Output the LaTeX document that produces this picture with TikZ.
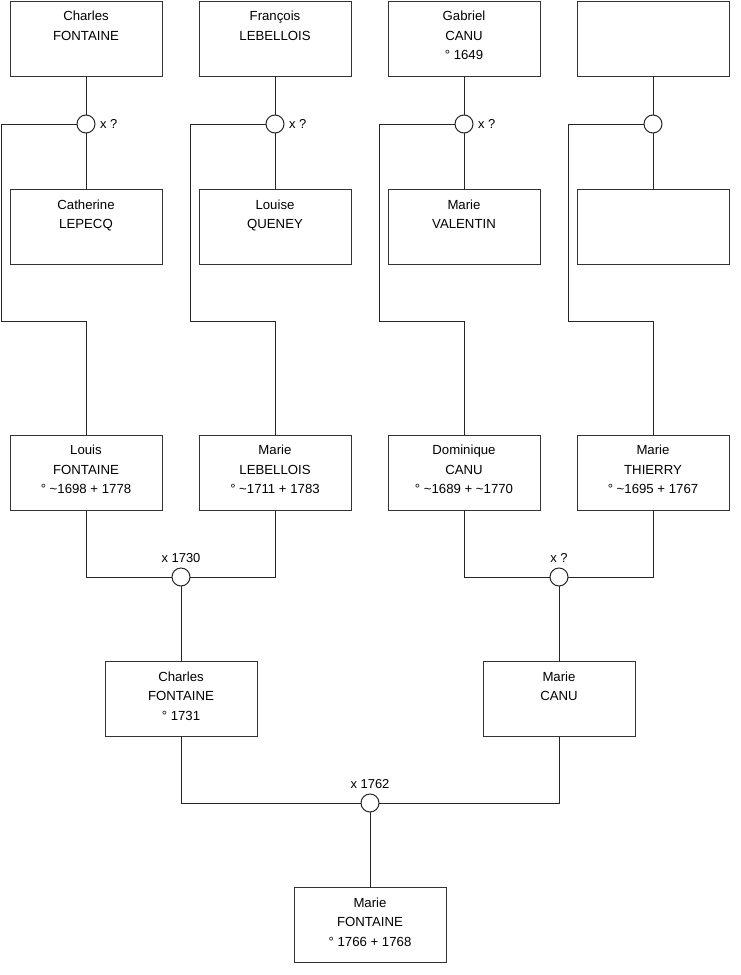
\documentclass[tikz,border=0pt]{standalone}
\usepackage{fontspec}
\setmainfont{Liberation Sans}
\begin{document}
\begin{tikzpicture}[x=0.75pt,y=-0.75pt,
  person/.style={draw=black!80, line width=0.75pt, minimum width=114pt, minimum height=56.25pt, inner sep=0pt, outer sep=0pt},
  ring/.style={circle, draw=black!85, fill=white, line width=0.75pt, minimum size=13.5pt, inner sep=0pt, outer sep=0pt},
  link/.style={line width=0.75pt, draw=black!85},
  txt/.style={align=center, font=\fontsize{9.9}{14.6}\selectfont, anchor=north, inner sep=0pt},
  mtxt/.style={font=\fontsize{9.7}{11}\selectfont, inner sep=0pt}]
\fill[white] (0,0) rectangle (740,975);
\useasboundingbox (0,0) rectangle (740,975);
% top row
\node[person] (g1) at (86,38.5) {};
\node[person] (g2) at (275,38.5) {};
\node[person] (g3) at (464,38.5) {};
\node[person] (g4) at (653,38.5) {};
\node[txt] (tg1) at ([yshift=-7.6pt]g1.north) {Charles\\FONTAINE};
\node[txt] (tg2) at ([yshift=-7.6pt]g2.north) {François\\LEBELLOIS};
\node[txt] (tg3) at ([yshift=-7.6pt]g3.north) {Gabriel\\CANU\\° 1649};
% second row
\node[person] (w1) at (86,227) {};
\node[person] (w2) at (275,227) {};
\node[person] (w3) at (464,227) {};
\node[person] (w4) at (653,227) {};
\node[txt] (tw1) at ([yshift=-7.6pt]w1.north) {Catherine\\LEPECQ};
\node[txt] (tw2) at ([yshift=-7.6pt]w2.north) {Louise\\QUENEY};
\node[txt] (tw3) at ([yshift=-7.6pt]w3.north) {Marie\\VALENTIN};
% third row
\node[person] (r1) at (86,472.5) {};
\node[person] (r2) at (275,472.5) {};
\node[person] (r3) at (464,472.5) {};
\node[person] (r4) at (653,472.5) {};
\node[txt] (tr1) at ([yshift=-7.6pt]r1.north) {Louis\\FONTAINE\\° \textasciitilde1698 + 1778};
\node[txt] (tr2) at ([yshift=-7.6pt]r2.north) {Marie\\LEBELLOIS\\° \textasciitilde1711 + 1783};
\node[txt] (tr3) at ([yshift=-7.6pt]r3.north) {Dominique\\CANU\\° \textasciitilde1689 + \textasciitilde1770};
\node[txt] (tr4) at ([yshift=-7.6pt]r4.north) {Marie\\THIERRY\\° \textasciitilde1695 + 1767};
% fourth row
\node[person] (s1) at (181,699) {};
\node[person] (s2) at (559,699) {};
\node[txt] (ts1) at ([yshift=-7.6pt]s1.north) {Charles\\FONTAINE\\° 1731};
\node[txt] (ts2) at ([yshift=-7.6pt]s2.north) {Marie\\CANU};
% bottom
\node[person] (b) at (370,925) {};
\node[txt] (tb) at ([yshift=-7.6pt]b.north) {Marie\\FONTAINE\\° 1766 + 1768};
% marriage rings
\node[ring] (m1) at (86,124) {};
\node[ring] (m2) at (275,124) {};
\node[ring] (m3) at (464,124) {};
\node[ring] (m4) at (653,124) {};
\node[ring] (m5) at (181,577) {};
\node[ring] (m6) at (559,577) {};
\node[ring] (m7) at (370,803) {};
% bend points
\coordinate (k1) at (1,321);
\coordinate (k2) at (190,321);
\coordinate (k3) at (379,321);
\coordinate (k4) at (568,321);
% connectors
\draw[link] (g1.south) -- (m1.north);
\draw[link] (g2.south) -- (m2.north);
\draw[link] (g3.south) -- (m3.north);
\draw[link] (g4.south) -- (m4.north);
\draw[link] (m1.south) -- (w1.north);
\draw[link] (m2.south) -- (w2.north);
\draw[link] (m3.south) -- (w3.north);
\draw[link] (m4.south) -- (w4.north);
\draw[link] (m1.west) -| (k1) -| (r1.north);
\draw[link] (m2.west) -| (k2) -| (r2.north);
\draw[link] (m3.west) -| (k3) -| (r3.north);
\draw[link] (m4.west) -| (k4) -| (r4.north);
\draw[link] (r1.south) |- (m5.west);
\draw[link] (r2.south) |- (m5.east);
\draw[link] (r3.south) |- (m6.west);
\draw[link] (r4.south) |- (m6.east);
\draw[link] (m5.south) -- (s1.north);
\draw[link] (m6.south) -- (s2.north);
\draw[link] (s1.south) |- (m7.west);
\draw[link] (s2.south) |- (m7.east);
\draw[link] (m7.south) -- (b.north);
% marriage labels
\node[mtxt, anchor=west, xshift=3.6pt] (l1) at (m1.east) {x ?};
\node[mtxt, anchor=west, xshift=3.6pt] (l2) at (m2.east) {x ?};
\node[mtxt, anchor=west, xshift=3.6pt] (l3) at (m3.east) {x ?};
\node[mtxt, anchor=south, yshift=4pt] (l5) at (m5.north) {x 1730};
\node[mtxt, anchor=south, yshift=4pt] (l6) at (m6.north) {x ?};
\node[mtxt, anchor=south, yshift=4pt] (l7) at (m7.north) {x 1762};
\end{tikzpicture}
\end{document}
